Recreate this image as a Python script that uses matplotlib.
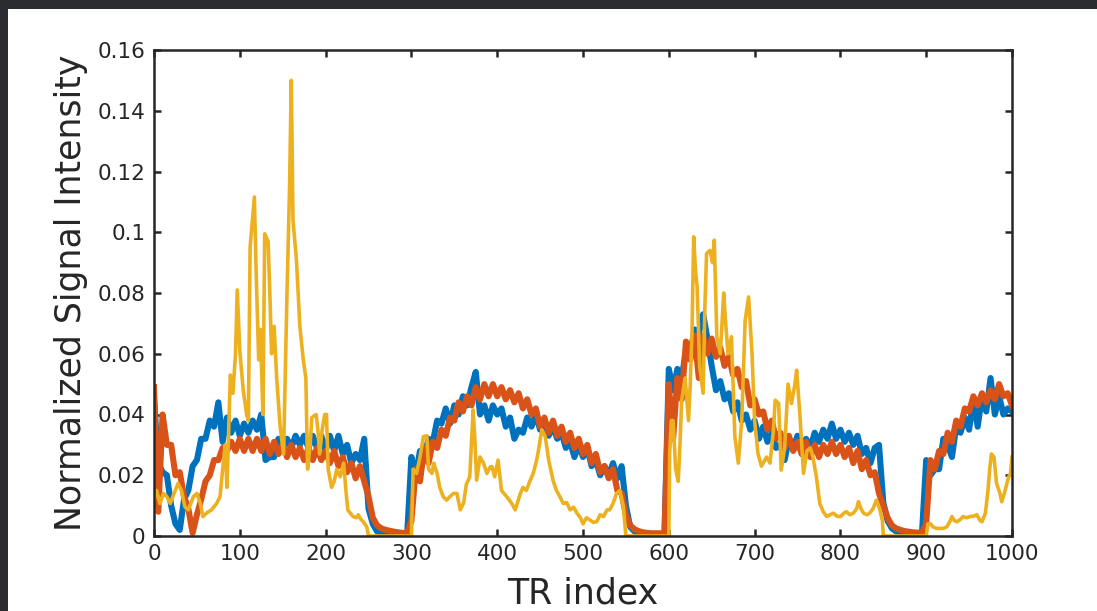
import numpy as np
import matplotlib
matplotlib.use("Agg")
import matplotlib.pyplot as plt
from matplotlib.patches import Rectangle

# TR grid for the two dense series (every 5th TR)
tr = np.arange(0, 1001, 5)

# values, in units of 1e-3
blue_milli = [
    45, 24, 21, 20, 10, 4, 2, 12, 15, 23, 25, 32, 32, 38, 36, 44, 31, 39, 34, 38,
    33, 37, 34, 38, 35, 40, 25, 26, 26, 32, 29, 32, 29, 33, 30, 33, 29, 33, 29, 33,
    28, 33, 28, 33, 27, 30, 24, 27, 25, 32, 9, 4, 1.5, 0.7, 0.4, 0.2, 0.1, 0.1, 0.1, 0.1,
    26, 20, 28, 26, 32, 31, 38, 37, 42, 37, 43, 40, 46, 43, 49, 54, 40, 43, 38, 43,
    40, 42, 36, 39, 32, 35, 34, 39, 36, 40, 35, 38, 33, 36, 32, 34, 29, 31, 26, 30,
    26, 29, 23, 25, 20, 23, 20, 24, 19, 23, 10, 3, 1.5, 1, 0.8, 0.5, 0.5, 0.5, 0.5, 0.5,
    55, 48, 55, 52, 61, 60, 68, 67, 73, 65, 56, 48, 51, 45, 47, 41, 44, 38, 40, 35,
    38, 32, 36, 31, 34, 29, 30, 25, 32, 29, 33, 27, 32, 29, 34, 31, 35, 32, 37, 32,
    35, 31, 34, 30, 33, 27, 29, 24, 29, 30, 11, 5, 2.5, 1.5, 1, 0.5, 0.5, 0.5, 0.5, 0.5,
    25, 20, 22, 22, 32, 30, 26, 36, 34, 39, 35, 45, 36, 46, 41, 52, 40, 46, 40, 42,
    41,
]

red_milli = [
    49, 8, 40, 30, 30, 20, 21, 13, 9, 1, 7, 12, 18, 20, 25, 25, 29, 28, 31, 28,
    32, 28, 32, 28, 32, 28, 32, 27, 31, 27, 30, 26, 30, 26, 29, 25, 29, 25, 29, 25,
    28, 24, 28, 23, 26, 21, 24, 19, 23, 18, 13, 6, 3.5, 2.5, 2, 1.7, 1.4, 1.2, 1, 0.9,
    5, 22, 18, 29, 24, 31, 29, 35, 33, 39, 38, 44, 41, 46, 43, 49, 45, 50, 46, 50,
    46, 49, 45, 48, 44, 47, 42, 45, 40, 42, 36, 39, 34, 38, 33, 36, 31, 34, 29, 32,
    27, 30, 24, 27, 21, 23, 19, 22, 15, 14, 7, 3.5, 2.2, 1.6, 1.2, 1, 0.9, 0.9, 0.9, 0.9,
    50, 32, 52, 45, 64, 58, 66, 52, 66, 60, 65, 59, 62, 56, 59, 53, 55, 49, 51, 43,
    45, 40, 41, 35, 38, 32, 34, 29, 33, 28, 31, 27, 31, 26, 30, 26, 30, 27, 31, 27,
    30, 26, 29, 24, 28, 22, 25, 20, 21, 14, 10, 6, 3.5, 2.5, 2, 1.6, 1.4, 1.2, 1.1, 1,
    4, 25, 22, 28, 27, 34, 31, 38, 36, 42, 41, 46, 43, 47, 44, 48, 45, 50, 46, 47,
    43,
]

# the yellow series is spiky, so it keeps its own TR knots
yellow_pts = [
    (0, 12), (3, 15), (7, 10.7), (11, 14), (15, 13), (19, 10.7), (22, 13), (28, 17.3),
    (32, 15), (36, 9.6), (40, 8.6), (46, 13), (50, 14), (54, 10.7), (57, 6.4), (61, 7.5),
    (67, 8.6), (73, 10.7), (77, 13), (80, 22), (83, 30), (85, 16), (89, 53), (92, 47),
    (95, 60), (97, 81), (100, 61), (104, 48), (108, 40), (110, 38), (112, 95), (117, 111.6),
    (119, 87.5), (122, 58), (124, 68), (127, 40), (129, 99.5), (133, 97), (135, 80), (137, 60),
    (140, 69), (143, 52), (147, 36), (151, 27), (155, 80), (158, 115), (160, 150), (162, 104),
    (166, 91), (170, 69), (174, 58), (177, 52), (179, 22), (182, 30), (184, 39), (189, 40),
    (191, 35), (193, 27), (196, 35), (199, 40), (201, 40), (203, 22), (207, 16), (210, 18),
    (213, 22), (217, 19.5), (221, 24), (224, 14), (226, 8.5), (232, 6.4), (236, 6), (238, 7),
    (241, 5.5), (244, 4.7), (248, 3), (250, 0), (300, 0), (302, 22), (306, 20.6), (310, 26),
    (314, 32.7), (318, 33), (320, 22), (324, 20.6), (326, 24), (330, 20.6), (333, 16), (337, 13),
    (341, 11.8), (345, 13), (349, 14), (353, 14), (357, 8.6), (361, 11), (364, 17), (368, 19.5),
    (372, 41.5), (374, 31.6), (376, 18.4), (380, 26), (384, 24), (388, 20.6), (392, 22.8),
    (394, 22.8), (397, 19.5), (401, 25), (405, 15), (411, 13), (417, 10.7), (421, 8.6),
    (427, 14), (430, 16), (434, 15), (438, 18), (442, 20.6), (446, 25), (448, 28), (452, 35),
    (456, 32.7), (460, 25), (465, 18.4), (469, 15), (473, 13), (477, 10.7), (481, 11),
    (485, 8.6), (489, 9.5), (493, 7.5), (497, 6), (500, 4), (504, 6), (508, 5.3), (512, 4.5),
    (516, 4.7), (520, 7), (524, 6.4), (528, 8.6), (531, 8.6), (535, 10.7), (539, 14), (543, 15),
    (547, 9.7), (550, 0), (600, 0), (601, 27), (603, 38), (605, 38), (608, 22), (611, 18),
    (613, 30), (615, 44.7), (619, 52), (621, 45), (623, 38), (625, 50), (627, 66.7), (629, 98.5),
    (631, 88), (633, 82), (636, 55.7), (640, 47), (642, 75), (644, 93), (648, 94), (651, 90),
    (653, 97.4), (656, 65.6), (660, 60), (664, 80), (666, 71), (669, 60), (673, 65.6),
    (677, 32.7), (681, 24), (685, 38), (689, 71), (693, 78.7), (697, 60), (700, 38), (704, 27),
    (708, 23), (714, 26), (718, 24), (722, 35), (724, 44.7), (728, 43.6), (731, 21.7), (735, 29),
    (739, 50), (743, 43.6), (747, 50), (749, 54.6), (753, 39), (757, 20.6), (761, 28), (765, 29),
    (768, 26), (772, 19.5), (776, 10.7), (780, 8), (784, 6.4), (788, 7), (792, 7.5), (796, 6.5),
    (800, 6.4), (804, 7.5), (807, 8), (811, 7), (815, 7.5), (819, 9), (821, 11.3), (824, 9),
    (827, 7.5), (831, 7), (834, 7.5), (838, 9), (842, 11.8), (846, 8.6), (849, 5), (850, 0),
    (900, 0), (902, 4), (905, 4), (908, 3), (912, 2.5), (916, 2.5), (920, 2.5), (924, 3),
    (928, 5), (930, 6.4), (933, 5), (936, 4.7), (940, 5.5), (943, 6.4), (947, 6), (951, 6.4),
    (955, 6.5), (959, 7), (963, 5), (965, 4.7), (969, 7.5), (972, 15), (974, 22), (976, 27),
    (979, 26), (982, 17.3), (986, 14), (988, 11.3), (990, 13), (992, 15), (996, 19.5),
    (998, 20), (1000, 26),
]

x_ticks = list(range(0, 1001, 100))
y_ticks = [0, 0.02, 0.04, 0.06, 0.08, 0.1, 0.12, 0.14, 0.16]
y_tick_labels = ["0", "0.02", "0.04", "0.06", "0.08", "0.1", "0.12", "0.14", "0.16"]

blue = np.array(blue_milli) / 1000
red = np.array(red_milli) / 1000
yellow_tr, yellow_milli = np.array(yellow_pts).T
yellow = yellow_milli / 1000

ink = "#262626"

fig = plt.figure(figsize=(10.97, 6.11), dpi=100, facecolor="#2b2c30")
# white page inside the dark frame on the left and top edges
fig.patches.append(Rectangle((8 / 1097, 0), 1, (611 - 9) / 611,
                             transform=fig.transFigure, facecolor="white",
                             edgecolor="none", zorder=-10))

ax = fig.add_axes([154 / 1097, 75 / 611, 858 / 1097, 486 / 611])
ax.plot(tr, blue, color="#0072BD", lw=4.4)
ax.plot(tr, red, color="#D95319", lw=4.4)
ax.plot(yellow_tr, yellow, color="#EDB120", lw=2.6)

ax.set_xlim(0, 1000)
ax.set_ylim(0, 0.16)
ax.set_xticks(x_ticks)
ax.set_yticks(y_ticks)
ax.set_yticklabels(y_tick_labels)

for s in ax.spines.values():
    s.set_linewidth(1.8)
    s.set_color(ink)
ax.tick_params(direction="in", top=True, right=True, length=5, width=1.8,
               color=ink, labelcolor=ink, labelsize=15.5, pad=6)

ax.set_xlabel("TR index", fontsize=25, color=ink)
ax.set_ylabel("Normalized Signal Intensity", fontsize=25, color=ink)
ax.xaxis.set_label_coords(0.5, -0.084)
ax.yaxis.set_label_coords(-0.077, 0.5)

fig.savefig("out.png", dpi=100, facecolor=fig.get_facecolor())
